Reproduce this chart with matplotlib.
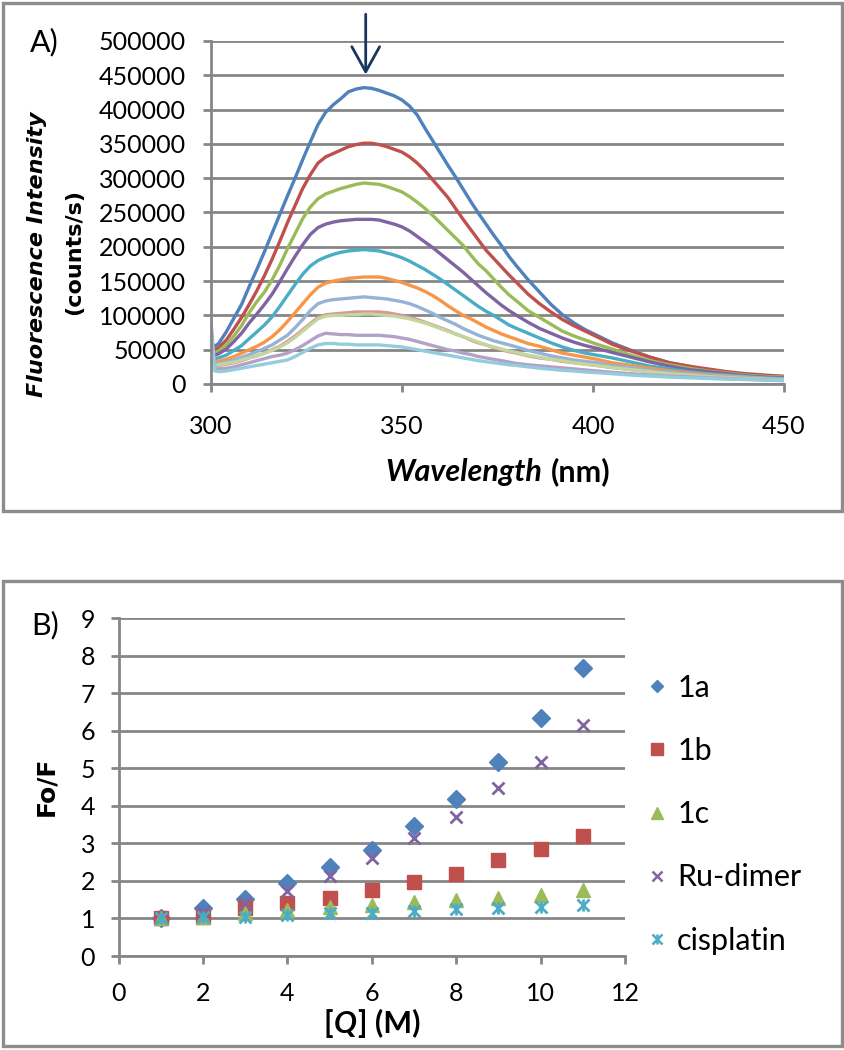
import matplotlib
matplotlib.use("Agg")
import matplotlib.pyplot as plt
from matplotlib.patches import Rectangle
from matplotlib.offsetbox import TextArea, HPacker, AnnotationBbox
from matplotlib.legend_handler import HandlerTuple
from matplotlib.lines import Line2D

# ---------------- Panel A data (counts/s in thousands) ----------------
wavelength = [300, 301, 302,
              304, 306, 308, 310, 312, 314, 316, 318, 320, 322,
              324, 326, 328, 330, 332, 334, 336, 338, 340, 342,
              344, 346, 348, 350, 352, 354, 356, 358, 360, 362,
              364, 366, 368, 370, 372, 374, 376, 378, 380,
              383, 386, 389, 392, 395, 398, 401,
              405, 410, 415, 420, 425, 430, 435, 440, 445, 450]

spec_1 = [60, 55, 59,
          76, 96, 116, 142, 167, 193, 220, 247, 274, 300,
          327, 353, 378, 396, 407, 416, 426, 430, 432, 431,
          428, 424, 420, 414, 405, 392, 373, 355, 337, 319,
          302, 284, 266, 249, 233, 217, 202, 186, 172,
          152, 134, 116, 101, 89, 79, 71,
          60, 49, 39, 31, 26, 20, 17, 14, 12, 11]
spec_2 = [56, 50, 53,
          64, 80, 97, 116, 136, 158, 182, 208, 235, 260,
          285, 305, 322, 331, 336, 341, 346, 349, 351, 351,
          349, 346, 342, 338, 331, 322, 311, 298, 285, 272,
          256, 240, 225, 210, 195, 183, 171, 159, 148,
          131, 117, 105, 94, 85, 77, 69,
          58, 48, 39, 31, 26, 22, 18, 15, 13, 11]
spec_3 = [52, 46, 48,
          57, 70, 85, 104, 120, 134, 152, 173, 197, 219,
          241, 258, 270, 277, 281, 285, 288, 291, 293, 292,
          291, 288, 284, 280, 273, 265, 256, 246, 235, 224,
          213, 202, 188, 175, 165, 153, 141, 130, 121,
          107, 97, 87, 77, 70, 64, 58,
          51, 42, 34, 28, 23, 19, 16, 13, 11, 10]
spec_4 = [48, 42, 44,
          51, 62, 74, 89, 102, 116, 131, 149, 168, 186,
          203, 218, 228, 233, 236, 238, 239, 240, 240, 240,
          239, 236, 233, 229, 223, 215, 207, 199, 190, 181,
          172, 163, 153, 143, 133, 124, 115, 107, 100,
          90, 81, 74, 67, 61, 56, 52,
          46, 39, 32, 26, 21, 18, 15, 12, 10, 9]
spec_5 = [44, 37, 38,
          42, 49, 56, 66, 76, 86, 98, 113, 129, 145,
          160, 172, 180, 185, 189, 192, 194, 195, 196, 195,
          194, 191, 188, 184, 179, 173, 167, 160, 153, 145,
          137, 129, 121, 113, 106, 100, 93, 86, 81,
          74, 67, 60, 54, 49, 45, 42,
          38, 32, 26, 22, 18, 15, 13, 11, 9, 8]
spec_6 = [40, 32, 33,
          36, 40, 45, 50, 55, 61, 69, 79, 91, 104,
          117, 130, 141, 147, 150, 152, 154, 155, 156, 156,
          156, 154, 151, 148, 144, 140, 135, 129, 122, 114,
          107, 100, 95, 89, 83, 78, 73, 69, 65,
          59, 55, 50, 45, 42, 39, 36,
          31, 27, 23, 19, 16, 14, 12, 10, 8, 7]
spec_7 = [45, 29, 30,
          32, 35, 39, 43, 47, 52, 57, 64, 71, 82,
          94, 107, 117, 121, 123, 124, 125, 126, 127, 126,
          125, 124, 122, 120, 117, 113, 108, 103, 97, 92,
          87, 81, 76, 71, 67, 63, 60, 57, 54,
          49, 45, 41, 38, 35, 33, 31,
          27, 24, 20, 17, 14.5, 13, 11, 9.5, 8, 7]
spec_8 = [55, 26, 27,
          29, 31, 34, 38, 41, 45, 50, 55, 62, 70,
          79, 88, 97, 101, 102, 103, 104, 105, 105, 105,
          105, 104, 102, 100, 97, 94, 90, 86, 82, 78,
          73, 69, 64, 60, 57, 53, 50, 47, 45,
          41, 38, 36, 33, 31, 29, 27,
          24, 21, 18, 15, 13, 11, 9.5, 8, 7, 6]
spec_9 = [50, 27, 28,
          30, 32, 35, 38, 41, 45, 49, 54, 60, 68,
          77, 86, 95, 99, 100, 100, 101, 101, 102, 102,
          101, 100, 99, 97, 95, 92, 89, 85, 81, 77,
          73, 69, 65, 61, 57, 54, 51, 48, 46,
          42, 39, 36, 34, 31, 29, 27,
          24, 21, 18, 15, 13, 11, 9.5, 8, 7, 6]
spec_10 = [91, 23, 22,
           23, 25, 28, 31, 34, 37, 40, 42, 45, 50,
           56, 63, 70, 74, 73, 72, 72, 71, 71, 71,
           71, 70, 69, 67, 65, 62, 59, 56, 53, 50,
           48, 45, 43, 40, 38, 36, 34, 32, 30,
           28, 26.5, 25, 23.5, 22, 20.5, 19,
           17, 15, 13, 11.5, 10.5, 9, 8, 7, 6, 5]
spec_11 = [80, 19, 18,
           19, 21, 23, 25, 27, 29, 31, 33, 35, 40,
           46, 52, 57, 59, 59, 58, 58, 57, 57, 57,
           57, 56, 55, 54, 52, 50, 48, 46, 44, 42,
           40, 38, 36, 34, 32.5, 31, 29.5, 28, 27,
           25, 23, 21.5, 20, 19, 17.5, 16.5,
           15, 13, 11.5, 10, 9, 8, 7, 6.5, 5.5, 5]
spectra = [spec_1, spec_2, spec_3, spec_4, spec_5, spec_6, spec_7, spec_8, spec_9, spec_10, spec_11]
spec_colors = ["#4F81BD", "#C0504D", "#9BBB59", "#8064A2", "#4BACC6", "#F79646",
               "#95B3D7", "#D99694", "#C3D69B", "#B3A2C7", "#93CDDD"]
xticks_a = [300, 350, 400, 450]
yticks_a = [0, 50000, 100000, 150000, 200000, 250000, 300000, 350000, 400000, 450000, 500000]

# ---------------- Panel B data ----------------
q_conc = [1, 2, 3, 4, 5, 6, 7, 8, 9, 10, 11]
fo_1a = [1.00, 1.27, 1.52, 1.94, 2.36, 2.81, 3.45, 4.18, 5.17, 6.34, 7.66]
fo_1b = [1.00, 1.03, 1.28, 1.42, 1.55, 1.77, 1.98, 2.19, 2.55, 2.84, 3.19]
fo_1c = [1.00, 1.05, 1.15, 1.22, 1.30, 1.37, 1.45, 1.50, 1.55, 1.63, 1.75]
fo_ru = [1.00, 1.18, 1.40, 1.74, 2.13, 2.60, 3.15, 3.70, 4.47, 5.17, 6.15]
fo_cis = [1.00, 1.04, 1.04, 1.08, 1.14, 1.14, 1.19, 1.25, 1.29, 1.31, 1.35]
labels_b = ["1a", "1b", "1c", "Ru-dimer", "cisplatin"]
xticks_b = [0, 2, 4, 6, 8, 10, 12]
yticks_b = [0, 1, 2, 3, 4, 5, 6, 7, 8, 9]

GRID = "#868686"
TICKFONT = "Lato"
W, H = 845, 1050
fig = plt.figure(figsize=(W / 100, H / 100), dpi=100)


def fx(px):
    return px / W


def fy(py):
    return 1 - py / H


# panel frames
for (x0, y0, x1, y1) in [(3, 3, 842, 511), (3, 581, 842, 1046)]:
    fig.patches.append(Rectangle((fx(x0), fy(y1)), fx(x1) - fx(x0), fy(y0) - fy(y1),
                                 transform=fig.transFigure, fill=False,
                                 edgecolor="#8C8C8C", linewidth=2.4))


def style_axes(ax, xpad, ypad):
    for s in ["top", "right"]:
        ax.spines[s].set_visible(False)
    for s in ["left", "bottom"]:
        ax.spines[s].set_color(GRID)
        ax.spines[s].set_linewidth(2.0)
    ax.grid(axis="y", color=GRID, linewidth=2.0)
    ax.set_axisbelow(True)
    ax.tick_params(axis="x", direction="out", length=6, width=2.0, color=GRID,
                   pad=xpad, labelsize=18)
    ax.tick_params(axis="y", direction="out", length=6, width=2.0, color=GRID,
                   pad=ypad, labelsize=18)
    for lab in ax.get_xticklabels() + ax.get_yticklabels():
        lab.set_fontfamily(TICKFONT)


# ---------------- Panel A ----------------
axa = fig.add_axes([fx(211), fy(384), fx(784) - fx(211), fy(41) - fy(384)])
for ys, c in zip(spectra, spec_colors):
    axa.plot(wavelength, [v * 1000 for v in ys], color=c, linewidth=2.4,
             solid_joinstyle="round", solid_capstyle="round")
axa.set_xlim(300, 450)
axa.set_ylim(0, 500000)
axa.set_xticks(xticks_a)
axa.set_yticks(yticks_a)
axa.set_xticklabels([str(v) for v in xticks_a])
axa.set_yticklabels([str(v) for v in yticks_a])
style_axes(axa, xpad=16, ypad=12)
axa.annotate("", xy=(340.5, 447000), xytext=(340.5, 543000),
             arrowprops=dict(arrowstyle="->,head_length=0.9,head_width=0.5",
                             color="#17375E", lw=2.0, mutation_scale=20),
             annotation_clip=False)

fig.text(fx(44), fy(42), "A)", fontsize=22, family="Lato", ha="center", va="center")
fig.text(fx(37), fy(254), "Fluorescence Intensity", rotation=90, fontsize=16,
         family="DejaVu Sans", weight="bold", style="oblique", ha="center", va="center")
fig.text(fx(74), fy(252), "(counts/s)", rotation=90, fontsize=16,
         family="DejaVu Sans", weight="bold", ha="center", va="center")

ta1 = TextArea("Wavelength", textprops=dict(fontsize=22, family="Lato", weight="bold", style="italic"))
ta2 = TextArea("(nm)", textprops=dict(fontsize=22, family="Lato", weight="bold"))
pack = HPacker(children=[ta1, ta2], sep=6, pad=0, align="baseline")
fig.add_artist(AnnotationBbox(pack, (fx(498), fy(472)), xycoords="figure fraction",
                              frameon=False, box_alignment=(0.5, 0.5)))

# ---------------- Panel B ----------------
axb = fig.add_axes([fx(118.6), fy(956), fx(625) - fx(118.6), fy(618) - fy(956)])
axb.plot(q_conc, fo_1a, linestyle="none", marker="D", ms=9, color="#4F81BD", mec="#4F81BD")
axb.plot(q_conc, fo_1b, linestyle="none", marker="s", ms=10, color="#C0504D", mec="#C0504D")
axb.plot(q_conc, fo_1c, linestyle="none", marker="^", ms=10, color="#9BBB59", mec="#9BBB59")
axb.plot(q_conc, fo_ru, linestyle="none", marker="x", ms=9, mew=2.0, color="#8064A2")
axb.plot(q_conc, fo_cis, linestyle="none", marker="x", ms=9, mew=2.0, color="#4BACC6")
axb.plot(q_conc, fo_cis, linestyle="none", marker="|", ms=9, mew=2.0, color="#4BACC6")
axb.set_xlim(0, 12)
axb.set_ylim(0, 9)
axb.set_xticks(xticks_b)
axb.set_yticks(yticks_b)
axb.set_xticklabels([str(v) for v in xticks_b])
axb.set_yticklabels([str(v) for v in yticks_b])
style_axes(axb, xpad=13, ypad=11)

h1 = Line2D([], [], linestyle="none", marker="D", ms=6, color="#4F81BD")
h2 = Line2D([], [], linestyle="none", marker="s", ms=8, color="#C0504D")
h3 = Line2D([], [], linestyle="none", marker="^", ms=8, color="#9BBB59")
h4 = Line2D([], [], linestyle="none", marker="x", ms=7, mew=1.8, color="#8064A2")
h5a = Line2D([], [], linestyle="none", marker="x", ms=7, mew=1.8, color="#4BACC6")
h5b = Line2D([], [], linestyle="none", marker="|", ms=7, mew=1.8, color="#4BACC6")
leg = fig.legend([h1, h2, h3, h4, (h5a, h5b)], labels_b,
                 handler_map={tuple: HandlerTuple(ndivide=1, pad=0)},
                 loc="upper left", bbox_to_anchor=(fx(646), fy(674)),
                 frameon=False, handlelength=0.7, handletextpad=0.32,
                 labelspacing=1.15, borderpad=0, borderaxespad=0,
                 prop=dict(family="Lato", size=22))

fig.text(fx(31), fy(625), "B)", fontsize=22, family="Lato", ha="left", va="center")
fig.text(fx(46), fy(786), "Fo/F", rotation=90, fontsize=18,
         family="DejaVu Sans", weight="bold", ha="center", va="center")
tb1 = TextArea("[", textprops=dict(fontsize=22, family="Lato", weight="bold"))
tb2 = TextArea("Q", textprops=dict(fontsize=22, family="Lato", weight="bold", style="italic"))
tb3 = TextArea("] (M)", textprops=dict(fontsize=22, family="Lato", weight="bold"))
packb = HPacker(children=[tb1, tb2, tb3], sep=1, pad=0, align="baseline")
fig.add_artist(AnnotationBbox(packb, (fx(372), fy(1023)), xycoords="figure fraction",
                              frameon=False, box_alignment=(0.5, 0.5)))

fig.savefig("out.png", dpi=100, facecolor="white")
